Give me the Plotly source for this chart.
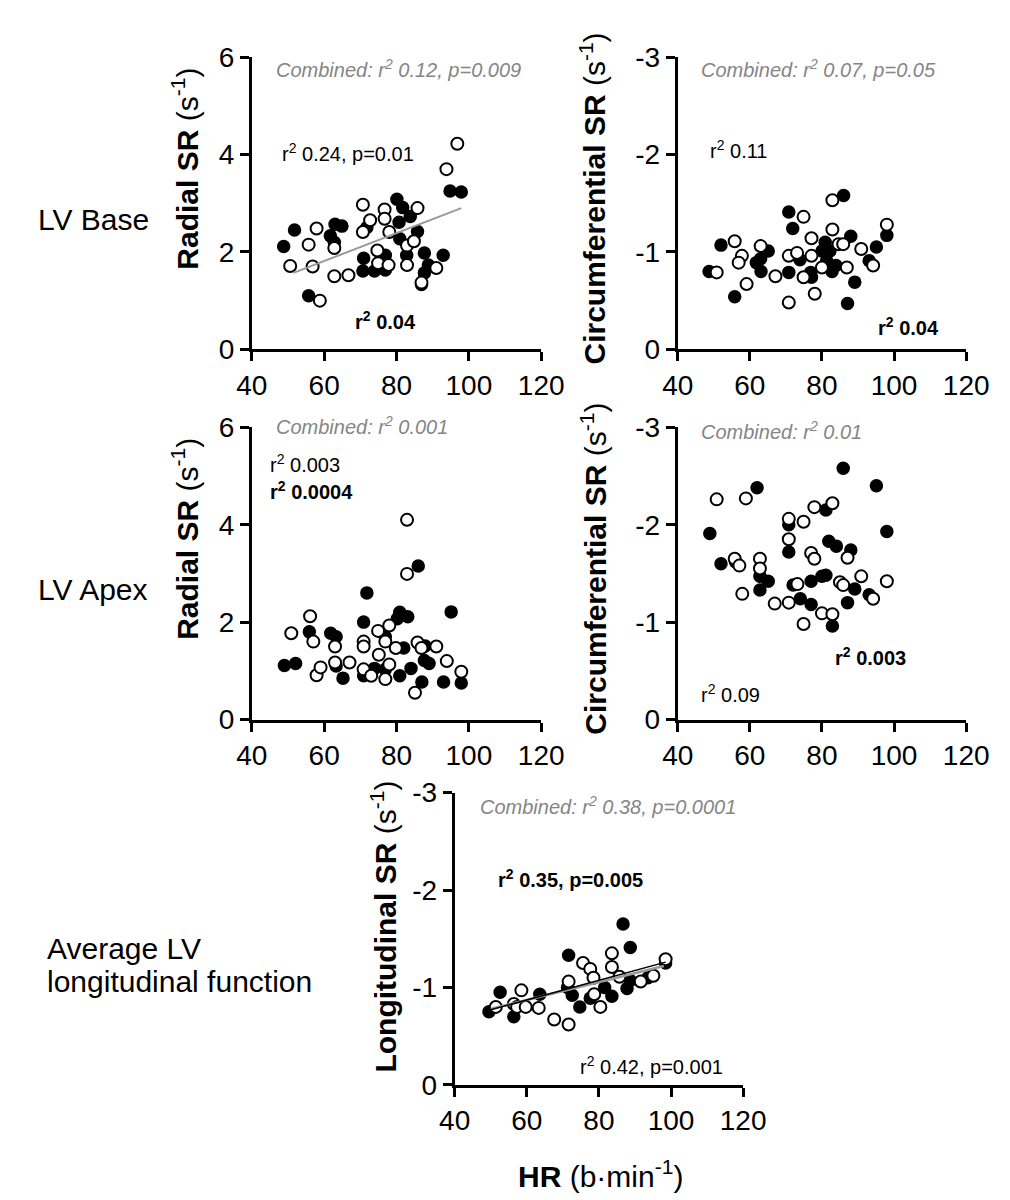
import plotly.graph_objects as go

# ---------------- data (HR in b/min, SR in 1/s) ----------------
x_ticks = [40, 60, 80, 100, 120]
radial_ticks = [0, 2, 4, 6]
neg_ticks = [0, -1, -2, -3]
neg_tick_text = ["0", "-1", "-2", "-3"]

base_rad_fill_x = [48.8, 51.8, 55.7, 61.7, 63.0, 64.9, 62.8, 70.9, 70.7, 71.8, 73.9, 76.9, 76.9, 80.1, 81.7, 80.7, 80.9, 82.8, 83.8, 85.8, 87.7, 86.9, 87.7, 88.8, 92.9, 94.8, 97.9]
base_rad_fill_y = [2.11, 2.45, 1.10, 2.33, 2.57, 2.53, 2.20, 1.87, 1.61, 2.50, 1.61, 1.63, 1.93, 3.08, 2.91, 2.61, 2.27, 1.93, 2.73, 2.42, 1.98, 1.33, 1.57, 1.73, 1.93, 3.25, 3.23]
base_rad_open_x = [50.6, 55.7, 56.8, 57.9, 58.8, 62.8, 62.8, 66.7, 70.7, 70.7, 72.7, 74.7, 74.9, 76.7, 76.7, 77.8, 78.0, 82.9, 82.9, 84.8, 85.8, 86.9, 91.0, 93.8, 96.8]
base_rad_open_y = [1.71, 2.15, 1.70, 2.48, 1.00, 1.50, 2.08, 1.52, 2.97, 2.41, 2.65, 2.03, 1.77, 2.87, 2.68, 1.73, 2.41, 2.13, 1.73, 2.22, 2.90, 1.37, 1.67, 3.70, 4.22]
base_rad_fit_x = [51.5, 97.9]
base_rad_fit_y = [1.57, 2.90]

base_circ_fill_x = [48.7, 52.0, 55.8, 61.8, 63.0, 63.1, 65.1, 70.8, 71.9, 70.8, 73.9, 76.9, 77.1, 80.9, 80.0, 81.3, 82.2, 82.8, 83.9, 86.0, 87.1, 88.0, 89.1, 93.1, 95.1, 98.0]
base_circ_fill_y = [-0.80, -1.07, -0.54, -0.89, -0.93, -0.80, -1.01, -1.41, -1.24, -0.79, -0.92, -0.79, -0.74, -1.10, -1.01, -0.91, -1.01, -0.80, -0.86, -1.58, -0.47, -1.16, -0.69, -0.91, -1.05, -1.17]
base_circ_open_x = [50.8, 55.8, 57.8, 56.9, 59.1, 63.0, 67.1, 70.8, 70.8, 73.1, 74.9, 74.9, 77.1, 77.1, 78.0, 80.0, 82.9, 82.9, 84.6, 85.9, 86.9, 90.9, 94.2, 98.0]
base_circ_open_y = [-0.79, -1.11, -0.96, -0.89, -0.67, -1.06, -0.75, -0.96, -0.48, -0.99, -1.36, -0.74, -1.14, -0.96, -0.57, -0.84, -1.53, -1.23, -1.08, -1.08, -0.84, -1.03, -0.86, -1.28]

apex_rad_fill_x = [49.0, 52.1, 55.9, 61.8, 63.3, 63.3, 65.2, 71.8, 70.9, 70.9, 73.9, 76.9, 76.9, 80.2, 80.9, 83.1, 80.9, 82.0, 84.0, 86.0, 87.0, 87.9, 87.7, 89.0, 93.0, 95.1, 97.9]
apex_rad_fill_y = [1.11, 1.15, 1.80, 1.77, 1.70, 1.10, 0.85, 2.60, 2.00, 0.90, 1.05, 1.03, 1.70, 2.07, 2.20, 2.11, 0.90, 1.47, 1.05, 3.15, 0.77, 1.51, 1.21, 1.15, 0.77, 2.21, 0.75]
apex_rad_open_x = [50.9, 56.1, 57.0, 57.9, 59.0, 63.0, 63.0, 67.0, 70.9, 70.9, 70.9, 73.0, 74.9, 75.1, 76.9, 76.9, 78.0, 78.0, 79.8, 82.9, 82.9, 85.1, 85.8, 86.9, 91.0, 93.9, 97.9]
apex_rad_open_y = [1.77, 2.12, 1.60, 0.91, 1.07, 1.50, 1.17, 1.17, 1.60, 1.50, 1.03, 0.90, 1.82, 1.33, 1.60, 0.83, 1.13, 1.93, 1.47, 4.10, 2.99, 0.55, 1.58, 1.47, 1.50, 1.20, 0.98]

apex_circ_fill_x = [48.9, 52.0, 56.0, 62.0, 62.8, 65.1, 62.8, 70.8, 70.8, 72.0, 74.0, 77.0, 77.0, 80.0, 81.1, 81.1, 81.9, 84.0, 85.9, 88.0, 87.1, 82.9, 89.1, 93.1, 95.1, 98.0]
apex_circ_fill_y = [-1.91, -1.60, -1.62, -2.38, -1.47, -1.42, -1.33, -2.00, -1.72, -1.38, -1.24, -1.42, -1.18, -1.47, -1.48, -2.15, -1.83, -1.78, -2.58, -1.74, -1.20, -0.96, -1.34, -1.28, -2.40, -1.93]
apex_circ_open_x = [50.8, 55.8, 57.1, 57.9, 58.9, 62.8, 62.8, 66.9, 70.8, 70.8, 70.8, 73.2, 74.9, 74.9, 77.0, 77.9, 77.9, 80.0, 82.9, 82.9, 85.0, 85.9, 87.1, 90.9, 94.2, 98.0]
apex_circ_open_y = [-2.26, -1.65, -1.58, -1.29, -2.27, -1.65, -1.55, -1.19, -2.06, -1.85, -1.20, -1.39, -2.03, -0.98, -1.71, -1.65, -2.18, -1.09, -2.22, -1.08, -1.41, -1.38, -1.66, -1.47, -1.24, -1.42]

long_fill_x = [49.5, 52.6, 56.4, 63.6, 71.6, 71.3, 72.6, 74.7, 77.6, 81.6, 83.6, 86.7, 88.7, 87.8, 88.7, 93.6, 98.5]
long_fill_y = [-0.75, -0.95, -0.70, -0.93, -1.33, -1.00, -0.92, -0.80, -0.89, -1.00, -0.91, -1.65, -1.41, -0.99, -1.07, -1.10, -1.25]
long_open_x = [51.4, 56.4, 58.5, 57.3, 59.7, 63.3, 67.6, 71.6, 71.6, 75.6, 77.6, 78.5, 78.7, 80.4, 83.6, 83.6, 85.7, 91.6, 95.1, 98.5]
long_open_y = [-0.80, -0.83, -0.97, -0.80, -0.80, -0.79, -0.67, -0.62, -1.06, -1.25, -1.19, -1.10, -0.93, -0.80, -1.35, -1.21, -1.11, -1.06, -1.12, -1.29]
long_fit_comb_x = [50.0, 98.0]
long_fit_comb_y = [-0.78, -1.22]
long_fit_fill_x = [49.0, 98.5]
long_fit_fill_y = [-0.76, -1.26]

# ---------------- layout helpers ----------------
W, H = 1010, 1200
FONT = "Liberation Sans, Arial, sans-serif"


def fx(p):
    return p / W


def fy(p):
    return 1 - p / H


fig = go.Figure()

panels = [
    # (xaxis id, yaxis id, x px range, y px range, radial?)
    ("x", "y", (237, 538), (35, 335), True),
    ("x2", "y2", (680, 980), (35, 335), False),
    ("x3", "y3", (237, 538), (415, 715), True),
    ("x4", "y4", (680, 980), (415, 715), False),
    ("x5", "y5", (448, 748), (790, 1090), False),
]

series = [
    (base_rad_fill_x, base_rad_fill_y, base_rad_open_x, base_rad_open_y),
    (base_circ_fill_x, base_circ_fill_y, base_circ_open_x, base_circ_open_y),
    (apex_rad_fill_x, apex_rad_fill_y, apex_rad_open_x, apex_rad_open_y),
    (apex_circ_fill_x, apex_circ_fill_y, apex_circ_open_x, apex_circ_open_y),
    (long_fill_x, long_fill_y, long_open_x, long_open_y),
]

fills = dict(size=12, color="black", line=dict(color="black", width=1.5))
opens = dict(size=12, color="white", line=dict(color="black", width=2))

for (xa, ya, _, _, _), (fxs, fys, oxs, oys) in zip(panels, series):
    fig.add_trace(go.Scatter(x=fxs, y=fys, mode="markers", marker=fills,
                             xaxis=xa, yaxis=ya, showlegend=False, cliponaxis=False))
    fig.add_trace(go.Scatter(x=oxs, y=oys, mode="markers", marker=opens,
                             xaxis=xa, yaxis=ya, showlegend=False, cliponaxis=False))

# regression lines
fig.add_trace(go.Scatter(x=base_rad_fit_x, y=base_rad_fit_y, mode="lines",
                         line=dict(color="#9a9a9a", width=2), xaxis="x", yaxis="y",
                         showlegend=False))
fig.add_trace(go.Scatter(x=long_fit_comb_x, y=long_fit_comb_y, mode="lines",
                         line=dict(color="#9a9a9a", width=2.5), xaxis="x5", yaxis="y5",
                         showlegend=False))
fig.add_trace(go.Scatter(x=long_fit_fill_x, y=long_fit_fill_y, mode="lines",
                         line=dict(color="black", width=1.5), xaxis="x5", yaxis="y5",
                         showlegend=False))

axis_common = dict(showline=True, linecolor="black", linewidth=3, ticks="outside",
                   ticklen=9, tickwidth=3, tickcolor="black", showgrid=False,
                   zeroline=False, tickfont=dict(family=FONT, size=28, color="black"),
                   fixedrange=True)

layout = {}
for i, (xa, ya, xr, yr, radial) in enumerate(panels):
    xkey = "xaxis" if xa == "x" else "xaxis" + xa[1:]
    ykey = "yaxis" if ya == "y" else "yaxis" + ya[1:]
    layout[xkey] = dict(axis_common, domain=[fx(xr[0]), fx(xr[1])], range=[40, 120],
                        tickmode="array", tickvals=x_ticks, anchor=ya)
    if radial:
        layout[ykey] = dict(axis_common, domain=[fy(yr[1]), fy(yr[0])], range=[0, 6],
                            tickmode="array", tickvals=radial_ticks, anchor=xa)
    else:
        layout[ykey] = dict(axis_common, domain=[fy(yr[1]), fy(yr[0])], range=[0, -3],
                            tickmode="array", tickvals=neg_ticks, ticktext=neg_tick_text,
                            anchor=xa)

fig.update_layout(**layout)

ann = []


def txt(text, x, y, size=20, color="black", xanchor="left", yanchor="middle", angle=0):
    ann.append(dict(text=text, x=fx(x), y=fy(y), xref="paper", yref="paper",
                    xanchor=xanchor, yanchor=yanchor, showarrow=False, textangle=angle,
                    font=dict(family=FONT, size=size, color=color)))


GREY = "#858585"
# Panel 1
txt("<i>Combined: r<sup>2</sup> 0.12, p=0.009</i>", 260, 47, color=GREY)
txt("r<sup>2</sup> 0.24, p=0.01", 266, 133)
txt("<b>r<sup>2</sup> 0.04</b>", 342, 305)
# Panel 2
txt("<i>Combined: r<sup>2</sup> 0.07, p=0.05</i>", 702, 47, color=GREY)
txt("r<sup>2</sup> 0.11", 711, 130)
txt("<b>r<sup>2</sup> 0.04</b>", 886, 312)
# Panel 3
txt("<i>Combined: r<sup>2</sup> 0.001</i>", 260, 413, color=GREY)
txt("r<sup>2</sup> 0.003", 254, 452)
txt("<b>r<sup>2</sup> 0.0004</b>", 254, 480)
# Panel 4
txt("<i>Combined: r<sup>2</sup> 0.01</i>", 702, 418, color=GREY)
txt("<b>r<sup>2</sup> 0.003</b>", 842, 650)
txt("r<sup>2</sup> 0.09", 702, 688)
# Panel 5
txt("<i>Combined: r<sup>2</sup> 0.38, p=0.0001</i>", 472, 803, color=GREY)
txt("<b>r<sup>2</sup> 0.35, p=0.005</b>", 491, 878)
txt("r<sup>2</sup> 0.42, p=0.001", 576, 1070)

# Axis titles
TS = 30
txt("<b>Radial SR</b> (s<sup>-1</sup>)", 168, 150, size=TS, xanchor="center", angle=-90)
txt("<b>Radial SR</b> (s<sup>-1</sup>)", 168, 530, size=TS, xanchor="center", angle=-90)
txt("<b>Circumferential SR</b> (s<sup>-1</sup>)", 592, 180, size=TS, xanchor="center", angle=-90)
txt("<b>Circumferential SR</b> (s<sup>-1</sup>)", 592, 560, size=TS, xanchor="center", angle=-90)
txt("<b>Longitudinal SR</b> (s<sup>-1</sup>)", 374, 928, size=TS, xanchor="center", angle=-90)
txt("<b>HR</b> (b·min<sup>-1</sup>)", 600, 1182, size=TS, xanchor="center")

# Row labels
txt("LV Base", 12, 202, size=30)
txt("LV Apex", 12, 582, size=30)
txt("Average LV", 22, 950, size=30)
txt("longitudinal function", 22, 984, size=30)

fig.update_layout(annotations=ann, width=W, height=H,
                  margin=dict(l=0, r=0, t=0, b=0),
                  paper_bgcolor="white", plot_bgcolor="white",
                  font=dict(family=FONT, color="black"))

fig.write_html("out.html")
